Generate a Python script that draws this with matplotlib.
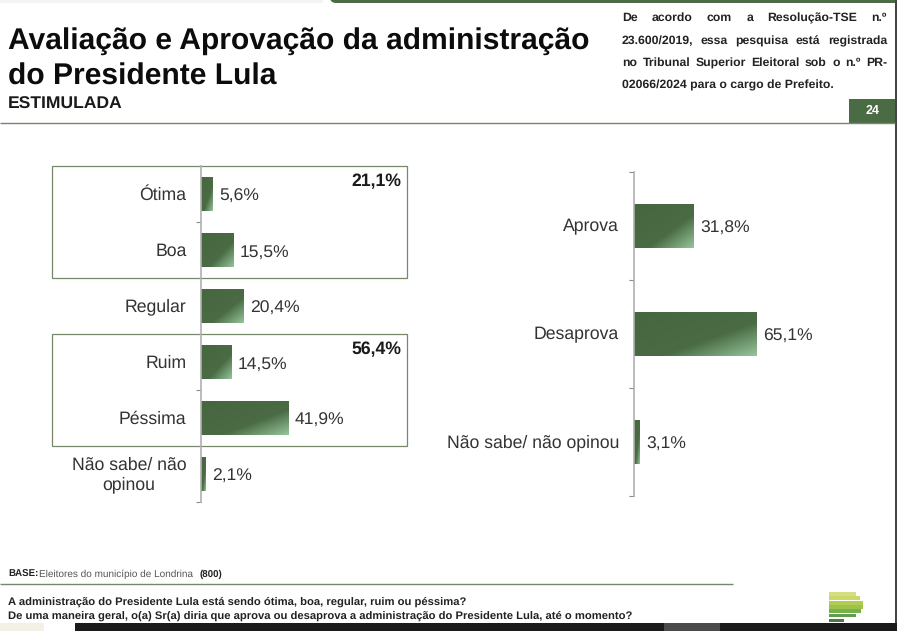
import numpy as np
import matplotlib
matplotlib.use("Agg")
import matplotlib.pyplot as plt
from matplotlib.patches import Rectangle, FancyBboxPatch
from matplotlib.colors import LinearSegmentedColormap

plt.rcParams['font.family'] = ['Liberation Sans', 'DejaVu Sans']
plt.rcParams['text.hinting'] = 'no_hinting'

W, H = 897, 631
left_categories = ['Ótima', 'Boa', 'Regular', 'Ruim', 'Péssima', 'Não sabe/ não\nopinou']
left_values = [5.6, 15.5, 20.4, 14.5, 41.9, 2.1]
left_labels = ['5,6%', '15,5%', '20,4%', '14,5%', '41,9%', '2,1%']
right_categories = ['Aprova', 'Desaprova', 'Não sabe/ não opinou']
right_values = [31.8, 65.1, 3.1]
right_labels = ['31,8%', '65,1%', '3,1%']
group_labels = ['21,1%', '56,4%']

title_lines = ['Avaliação e Aprovação da administração', 'do Presidente Lula']
note_lines = ['De acordo com a Resolução-TSE n.º',
              '23.600/2019, essa pesquisa está registrada',
              'no Tribunal Superior Eleitoral sob o n.º PR-',
              '02066/2024 para o cargo de Prefeito.']
question_lines = ['A administração do Presidente Lula está sendo ótima, boa, regular, ruim ou péssima?',
                  'De uma maneira geral, o(a) Sr(a) diria que aprova ou desaprova a administração do Presidente Lula, até o momento?']

GREEN = '#4a6b44'
LINE = '#76886a'
cmap = LinearSegmentedColormap.from_list('bar', [(0, '#466640'), (0.62, '#4a6b44'), (1, '#94c49a')])

fig = plt.figure(figsize=(W / 100, H / 100), dpi=100, facecolor='white')

page = fig.add_axes([0, 0, 1, 1], zorder=0)
page.set_xlim(0, W)
page.set_ylim(H, 0)
page.axis('off')


def hline(x0, x1, y, c=LINE, lw=1.0):
    page.plot([x0, x1], [y, y], color=c, lw=lw, solid_capstyle='butt')


def px(size):
    return size * 0.72


# page frame
page.add_patch(FancyBboxPatch((330, -12), 600, 15, boxstyle='round,pad=0,rounding_size=6',
                              fc=GREEN, ec='none'))
page.add_patch(Rectangle((0, 0), 323, 3, fc='#f4f4f4', ec='none'))
page.add_patch(Rectangle((895, 0), 2, 623, fc='#444444', ec='none'))
hline(0, 895, 122.5)
hline(0, 733, 583.5)
page.add_patch(Rectangle((849, 99), 46, 24, fc=GREEN, ec='none'))
page.text(873, 111, '24', color='white', fontsize=px(12.5), fontweight='bold', ha='center', va='center')

# bottom strip
page.add_patch(Rectangle((0, 623), W, 8, fc='#1b1b1b', ec='none'))
page.add_patch(Rectangle((0, 623), 44, 8, fc='#f3f1e6', ec='none'))
page.add_patch(Rectangle((44, 623), 31, 8, fc='#ffffff', ec='none'))
page.add_patch(Rectangle((664, 623), 56, 8, fc='#4a4a4a', ec='none'))

# logo
logo_rows = [(592, 27, '#d6de82'), (596.3, 31, '#cbd968'), (600.6, 34, '#b2cd4e'), (604.9, 34, '#9cc44b'),
             (609.2, 32, '#79b04f'), (613.5, 27, '#5f9d4f'), (618.5, 15, '#4b7a42')]
for y, w, c in logo_rows:
    page.add_patch(Rectangle((829, y), w, 3.9, fc=c, ec='none'))

# titles
page.text(8, 41, title_lines[0], fontsize=px(30.05), fontweight='bold', color='#0c0c0c', va='center')
page.text(8, 77, title_lines[1], fontsize=px(30.05), fontweight='bold', color='#0c0c0c', va='center')
page.text(8, 104, 'ESTIMULADA', fontsize=px(17.5), fontweight='bold', color='#1a1a1a', va='center')

# justified note
fig.canvas.draw()
renderer = fig.canvas.get_renderer()
note_ys = [18, 41, 63, 85]
NX0, NX1 = 622, 887
NOTE_SIZE = px(12.2)
for i, (line, y) in enumerate(zip(note_lines, note_ys)):
    words = line.split()
    if i == len(note_lines) - 1:
        page.text(NX0, y, line, fontsize=NOTE_SIZE, fontweight='bold', color='#222222', va='center')
        continue
    arts = [page.text(NX0, y, w, fontsize=NOTE_SIZE, fontweight='bold', color='#222222', va='center') for w in words]
    widths = [a.get_window_extent(renderer).width for a in arts]
    gap = (NX1 - NX0 - sum(widths)) / (len(words) - 1)
    x = NX0
    for a, w in zip(arts, widths):
        a.set_x(x)
        x += w + gap

# footer text
page.text(8, 577.4, 'BASE:', fontsize=px(9.8), fontweight='bold', color='#222222', va='baseline')
page.text(39, 577.4, 'Eleitores do município de Londrina', fontsize=px(10), color='#555555', va='baseline')
page.text(199.5, 577.4, '(800)', fontsize=px(9.8), fontweight='bold', color='#222222', va='baseline')
page.text(8, 605, question_lines[0], fontsize=px(11.2), fontweight='bold', color='#222222', va='baseline')
page.text(8, 619, question_lines[1], fontsize=px(11.2), fontweight='bold', color='#222222', va='baseline')

# group boxes
for (x0, y0, x1, y1), label in zip([(52, 166, 407, 278), (52, 334, 407, 446)], group_labels):
    page.add_patch(Rectangle((x0, y0), x1 - x0, y1 - y0, fc='none', ec=LINE, lw=0.9, zorder=5))
    page.text(x1 - 6, y0 + 16, label, fontsize=px(17.6), fontweight='bold', color='#1a1a1a',
              ha='right', va='center', zorder=6)


def draw_chart(x0, y0, x1, y1, xmax, cats, vals, labels, height, cat_pad, lab_pad):
    ax = fig.add_axes([x0 / W, 1 - y1 / H, (x1 - x0) / W, (y1 - y0) / H], zorder=3)
    ax.patch.set_alpha(0)
    ypos = np.arange(len(cats))
    bars = ax.barh(ypos, vals, height=height, color=GREEN, linewidth=0)
    ax.set_xlim(0, xmax)
    ax.set_ylim(len(cats) - 0.5, -0.5)
    u, v = np.meshgrid(np.linspace(0, 1, 80), np.linspace(0, 1, 40))
    for bar in bars:
        b = bar.get_bbox()
        grad = (u + v) / 2
        im = ax.imshow(grad, extent=(b.x0, b.x1, b.y1, b.y0), cmap=cmap, vmin=0, vmax=1,
                       aspect='auto', interpolation='bilinear', zorder=2)
        im.set_clip_path(bar)
    ax.set_xlim(0, xmax)
    ax.set_ylim(len(cats) - 0.5, -0.5)
    for s in ['top', 'right', 'bottom']:
        ax.spines[s].set_visible(False)
    ax.spines['left'].set_color('#b0b0b0')
    ax.spines['left'].set_linewidth(1.2)
    ax.set_xticks([])
    ax.set_yticks(np.arange(len(cats) + 1) - 0.5, minor=False)
    ax.set_yticklabels([])
    ax.tick_params(axis='y', length=3.5, width=0.8, color='#8a8a8a', direction='out')
    for y, c in zip(ypos, cats):
        ax.annotate(c, (0, y), xytext=(-cat_pad, -1), textcoords='offset pixels', ha='right', va='center',
                    multialignment='center', fontsize=px(17.6), color='#333333', linespacing=1.25)
    for y, val, lab in zip(ypos, vals, labels):
        ax.annotate(lab, (val, y), xytext=(lab_pad, -2), textcoords='offset pixels', ha='left', va='center',
                    fontsize=px(17.5), color='#333333')
    return ax


draw_chart(200.5, 166, 410, 502, 100.4, left_categories, left_values, left_labels, 0.6, 14, 7)
draw_chart(634, 172, 830, 496, 104.4, right_categories, right_values, right_labels, 0.415, 15, 7)

fig.savefig('out.png', dpi=100, facecolor='white')
